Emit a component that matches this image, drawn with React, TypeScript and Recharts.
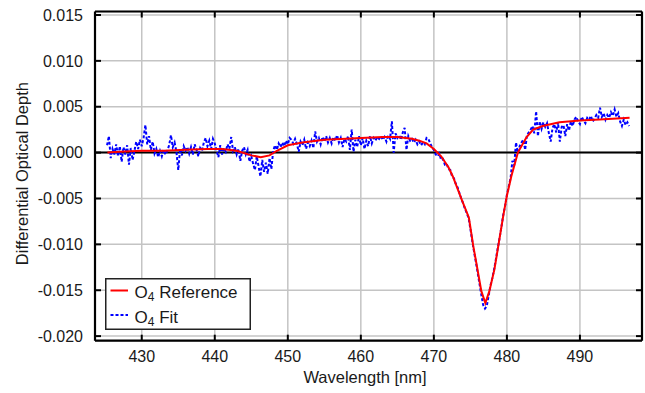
import { CartesianGrid, Legend, Line, LineChart, ReferenceLine, XAxis, YAxis } from 'recharts';

const FONT = '"Liberation Sans", Arial, Helvetica, sans-serif';
const TEXT = '#1a1a1a';

const wavelengthDomain = [423.6, 498.5];
const wavelengthTicks = [430, 440, 450, 460, 470, 480, 490];
const odDomain = [-0.0205, 0.01538];
const odTicks = [-0.02, -0.015, -0.01, -0.005, 0, 0.005, 0.01, 0.015];
const legendOrder = ['O4 Reference', 'O4 Fit'];

// [wavelength nm, differential optical depth]
const referenceCurve: [number, number][] = [
  [425.3, 0.0], [427, 0.0001], [430, 0.0002], [433, 0.0002], [436, 0.0003], [439, 0.0004],
  [441, 0.0004], [443, 0.0002], [445, -0.0003], [446.3, -0.0005], [447.5, -0.0003], [448.5, 0.0002],
  [450, 0.0008], [452, 0.0011], [455, 0.0014], [458, 0.0015], [460, 0.0016], [463, 0.0017],
  [465, 0.0017], [467, 0.0015], [468, 0.0013], [469, 0.001], [470, 0.0004], [471, -0.0004],
  [472, -0.0016], [472.6, -0.0026], [473.8, -0.0051], [474.8, -0.0071], [475.4, -0.0102],
  [475.9, -0.0124], [476.5, -0.0151], [477.05, -0.0164], [477.6, -0.0151], [478.3, -0.0127],
  [478.9, -0.0098], [479.5, -0.0069], [480.0, -0.0047], [480.6, -0.0026], [481.5, 0.0],
  [482.7, 0.0017], [483.6, 0.0025], [484.9, 0.0029], [487.2, 0.0033], [490, 0.0035],
  [492.7, 0.0036], [496.8, 0.0038],
];

const fitCurve: [number, number][] = [
  [425.25, 0.0008], [425.5, 0.0018], [425.75, -0.0006], [426.0, 0.0004], [426.25, -0.0002],
  [426.5, 0.0009], [426.75, -0.0004], [427.0, 0.0007], [427.25, -0.001], [427.5, 0.0006],
  [427.75, -0.0002], [428.0, 0.0008], [428.25, -0.0013], [428.5, 0.0005], [428.75, -0.0008],
  [429.0, 0.0002], [429.25, 0.0012], [429.5, 0.0004], [429.75, 0.0014], [430.0, 0.0007],
  [430.25, 0.0016], [430.5, 0.003], [430.75, 0.0009], [431.0, 0.0018], [431.25, 0.0003],
  [431.5, 0.0012], [431.75, -0.0001], [432.0, 0.0004], [432.25, -0.0005], [432.5, 0.0002],
  [432.75, -0.0004], [433.0, 0.0003], [433.25, -0.0002], [433.5, 0.0002], [433.75, 0.0008],
  [434.0, 0.0019], [434.25, 0.0006], [434.5, 0.0011], [434.75, 0.0001], [435.0, -0.0019],
  [435.25, 0.0004], [435.5, -0.0003], [435.75, 0.0007], [436.0, 0.0002], [436.25, 0.0006],
  [436.5, -0.0001], [436.75, 0.0006], [437.0, -0.0002], [437.25, 0.0009], [437.5, 0.0003],
  [437.75, -0.0004], [438.0, 0.0005], [438.25, 0.0002], [438.5, 0.0011], [438.75, 0.0016],
  [439.0, 0.0007], [439.25, 0.0013], [439.5, 0.0004], [439.75, 0.0015], [440.0, 0.001],
  [440.25, 0.0002], [440.5, -0.0005], [440.75, 0.0008], [441.0, -0.0002], [441.25, 0.0005],
  [441.5, 0.0001], [441.75, 0.0009], [442.0, 0.0004], [442.25, 0.0017], [442.5, 0.0002],
  [442.75, 0.0006], [443.0, -0.0002], [443.25, 0.0004], [443.5, -0.0009], [443.75, 0.0002],
  [444.0, 0.0006], [444.25, -0.0002], [444.5, 0.0003], [444.75, -0.001], [445.0, -0.0004],
  [445.25, -0.0012], [445.5, -0.0019], [445.75, -0.0004], [446.0, -0.0015], [446.25, -0.0026],
  [446.5, -0.0008], [446.75, -0.0021], [447.0, -0.0011], [447.25, -0.0023], [447.5, -0.0006],
  [447.75, -0.0018], [448.0, 0.0002], [448.25, 0.0008], [448.5, 0.0003], [448.75, 0.001],
  [449.0, 0.0006], [449.25, 0.0011], [449.5, 0.0007], [449.75, 0.0013], [450.0, 0.0009],
  [450.25, 0.0016], [450.5, 0.0014], [450.75, 0.001], [451.0, 0.0015], [451.25, 0.0009],
  [451.5, 0.0001], [451.75, 0.0012], [452.0, 0.0008], [452.25, 0.0014], [452.5, 0.0004],
  [452.75, 0.0011], [453.0, 0.0007], [453.25, 0.0013], [453.5, 0.0005], [453.75, 0.0023],
  [454.0, 0.0012], [454.25, 0.0016], [454.5, 0.0009], [454.75, 0.0017], [455.0, 0.0012],
  [455.25, 0.0018], [455.5, 0.0011], [455.75, 0.0016], [456.0, 0.001], [456.25, 0.0017],
  [456.5, 0.0013], [456.75, 0.0019], [457.0, 0.0011], [457.25, 0.0016], [457.5, 0.0006],
  [457.75, 0.0015], [458.0, 0.0012], [458.25, 0.0018], [458.5, 0.0003], [458.75, 0.0025],
  [459.0, 0.0001], [459.25, 0.0014], [459.5, 0.0006], [459.75, 0.0018], [460.0, 0.0008],
  [460.25, 0.0016], [460.5, 0.0004], [460.75, 0.0013], [461.0, 0.0007], [461.25, 0.0018],
  [461.5, 0.001], [461.75, 0.0016], [462.0, 0.0013], [462.25, 0.0017], [462.5, 0.0015],
  [462.75, 0.0018], [463.0, 0.0014], [463.25, 0.0017], [463.5, 0.0012], [463.75, 0.0019],
  [464.0, 0.0015], [464.25, 0.0034], [464.5, 0.0], [464.75, 0.0021], [465.0, 0.0016],
  [465.25, 0.0019], [465.5, 0.0014], [465.75, 0.0022], [466.0, 0.0027], [466.25, 0.0003],
  [466.5, 0.0018], [466.75, 0.0013], [467.0, 0.0015], [467.25, 0.0011], [467.5, 0.0014],
  [467.75, 0.0009], [468.0, 0.0012], [468.25, 0.0008], [468.5, 0.0011], [468.75, 0.0009],
  [469.0, 0.0016], [469.25, 0.0015], [469.5, 0.001], [469.75, 0.0006], [470.0, 0.0003],
  [470.25, -0.0002], [470.5, -0.0004], [470.75, -0.0001], [471.0, -0.0008], [471.25, -0.0007],
  [471.5, -0.0013], [471.75, -0.0012], [472.0, -0.0018], [472.25, -0.0019], [472.5, -0.0026],
  [472.75, -0.0028], [473.0, -0.0034], [473.25, -0.0038], [473.5, -0.0044], [473.75, -0.005],
  [474.0, -0.0055], [474.25, -0.0061], [474.5, -0.0066], [474.75, -0.0071], [475.0, -0.0083],
  [475.25, -0.0096], [475.5, -0.0108], [475.75, -0.0119], [476.0, -0.0131], [476.25, -0.0143],
  [476.5, -0.0155], [476.75, -0.0166], [477.0, -0.017], [477.25, -0.0167], [477.5, -0.0156],
  [477.75, -0.0145], [478.0, -0.0137], [478.25, -0.0127], [478.5, -0.0116], [478.75, -0.0104],
  [479.0, -0.0093], [479.25, -0.0081], [479.5, -0.0068], [479.75, -0.0058], [480.0, -0.0046],
  [480.25, -0.0037], [480.5, -0.0028], [480.75, -0.0009], [481.0, -0.0014], [481.25, 0.0011],
  [481.5, 0.0], [481.75, 0.0007], [482.0, 0.0011], [482.25, 0.0014], [482.5, 0.0003],
  [482.75, 0.0019], [483.0, 0.0022], [483.25, 0.0025], [483.5, 0.0029], [483.75, 0.0021],
  [484.0, 0.0045], [484.25, 0.0018], [484.5, 0.0034], [484.75, 0.0026], [485.0, 0.0033],
  [485.25, 0.0028], [485.5, 0.0032], [485.75, 0.0021], [486.0, 0.0012], [486.25, 0.0027],
  [486.5, 0.0031], [486.75, 0.0022], [487.0, 0.0033], [487.25, 0.0012], [487.5, 0.0028],
  [487.75, 0.003], [488.0, 0.0018], [488.25, 0.0031], [488.5, 0.0024], [488.75, 0.0034],
  [489.0, 0.0029], [489.25, 0.0036], [489.5, 0.0039], [489.75, 0.0034], [490.0, 0.0031],
  [490.25, 0.0039], [490.5, 0.0035], [490.75, 0.0032], [491.0, 0.0038], [491.25, 0.0036],
  [491.5, 0.004], [491.75, 0.0034], [492.0, 0.0037], [492.25, 0.0041], [492.5, 0.0038],
  [492.75, 0.0049], [493.0, 0.0039], [493.25, 0.0043], [493.5, 0.0036], [493.75, 0.0041],
  [494.0, 0.0038], [494.25, 0.0044], [494.5, 0.004], [494.75, 0.0047], [495.0, 0.0039],
  [495.25, 0.0043], [495.5, 0.0034], [495.75, 0.0029], [496.0, 0.0036], [496.25, 0.003],
  [496.5, 0.0033], [496.75, 0.0029],
];

const referenceData = referenceCurve.map(([wl, od]) => ({ wl, od }));
const fitData = fitCurve.map(([wl, od]) => ({ wl, od }));

const frameLine = { stroke: '#000', strokeWidth: 2.2 };

function BottomTick({ x, y, payload }: any) {
  return (
    <g>
      <line x1={x} y1={y} x2={x} y2={y - 6} stroke="#000" strokeWidth={2} />
      <text x={x} y={y + 21} textAnchor="middle" fontSize={16} fontFamily={FONT} fill={TEXT}>
        {payload.value}
      </text>
    </g>
  );
}

function TopTick({ x, y }: any) {
  return <line x1={x} y1={y} x2={x} y2={y + 6} stroke="#000" strokeWidth={2} />;
}

function LeftTick({ x, y, payload }: any) {
  return (
    <g>
      <line x1={x} y1={y} x2={x + 6} y2={y} stroke="#000" strokeWidth={2} />
      <text x={x - 12} y={y + 5.7} textAnchor="end" fontSize={16} fontFamily={FONT} fill={TEXT}>
        {Number(payload.value).toFixed(3)}
      </text>
    </g>
  );
}

function RightTick({ x, y }: any) {
  return <line x1={x} y1={y} x2={x - 6} y2={y} stroke="#000" strokeWidth={2} />;
}

function XTitle({ viewBox }: any) {
  return (
    <text
      x={viewBox.x + viewBox.width / 2 - 3.5}
      y={viewBox.y + 42}
      textAnchor="middle"
      fontSize={16.5}
      fontFamily={FONT}
      fill={TEXT}
    >
      Wavelength [nm]
    </text>
  );
}

function YTitle({ viewBox }: any) {
  const cx = viewBox.x + 28.5;
  const cy = viewBox.y + viewBox.height / 2 - 2.5;
  return (
    <text
      x={cx}
      y={cy}
      transform={`rotate(-90, ${cx}, ${cy})`}
      textAnchor="middle"
      fontSize={16.5}
      fontFamily={FONT}
      fill={TEXT}
    >
      Differential Optical Depth
    </text>
  );
}

function LegendBox({ payload }: any) {
  const items = legendOrder
    .map((name) => (payload || []).find((p: any) => p.value === name))
    .filter(Boolean);
  return (
    <svg width={146} height={52} style={{ display: 'block' }}>
      <rect x={0.75} y={0.75} width={144.5} height={50.5} fill="#fff" stroke="#222" strokeWidth={1.5} />
      {items.map((item: any, i: number) => {
        const cy = 12.5 + i * 24.5;
        return (
          <g key={item.value}>
            <line
              x1={5.5}
              x2={23}
              y1={cy}
              y2={cy}
              stroke={item.color}
              strokeWidth={2}
              strokeDasharray={item.payload?.strokeDasharray}
            />
            <text x={29.5} y={cy + 7.8} fontSize={17} fontFamily={FONT} fill={TEXT}>
              O
              <tspan fontSize={12} dy={3}>4</tspan>
              <tspan dy={-3}>{' ' + item.value.replace(/^O4 /, '')}</tspan>
            </text>
          </g>
        );
      })}
    </svg>
  );
}

export default function App() {
  return (
    <div style={{ position: 'absolute', left: 0, top: 0, width: 645, height: 393, background: '#fff' }}>
      <LineChart width={645} height={393} margin={{ top: 10.5, right: 2, bottom: 0, left: 0 }}>
        <CartesianGrid stroke="#c4c4c4" strokeWidth={1.5} />
        <XAxis
          type="number"
          dataKey="wl"
          domain={wavelengthDomain}
          ticks={wavelengthTicks}
          allowDataOverflow
          height={52.3}
          tickSize={0}
          tickMargin={0}
          tickLine={false}
          axisLine={frameLine}
          tick={<BottomTick />}
          label={XTitle}
        />
        <XAxis
          xAxisId="top"
          orientation="top"
          type="number"
          dataKey="wl"
          domain={wavelengthDomain}
          ticks={wavelengthTicks}
          allowDataOverflow
          height={1}
          tickSize={0}
          tickMargin={0}
          tickLine={false}
          axisLine={frameLine}
          tick={<TopTick />}
        />
        <YAxis
          type="number"
          domain={odDomain}
          ticks={odTicks}
          allowDataOverflow
          width={95}
          tickSize={0}
          tickMargin={0}
          tickLine={false}
          axisLine={frameLine}
          tick={<LeftTick />}
          label={YTitle}
        />
        <YAxis
          yAxisId="right"
          orientation="right"
          type="number"
          domain={odDomain}
          ticks={odTicks}
          allowDataOverflow
          width={1}
          tickSize={0}
          tickMargin={0}
          tickLine={false}
          axisLine={frameLine}
          tick={<RightTick />}
        />
        <ReferenceLine y={0} stroke="#000" strokeWidth={2} />
        <Legend
          layout="vertical"
          align="center"
          verticalAlign="middle"
          wrapperStyle={{ left: 105, top: 278, width: 146, height: 52 }}
          content={<LegendBox />}
        />
        <Line
          data={fitData}
          dataKey="od"
          name="O4 Fit"
          type="linear"
          stroke="#0000ff"
          strokeWidth={2}
          strokeDasharray="3 2"
          dot={false}
          activeDot={false}
          isAnimationActive={false}
        />
        {/* same domains as the bottom/left axes; bound to the mirrored axes so they get drawn */}
        <Line
          data={referenceData}
          xAxisId="top"
          yAxisId="right"
          dataKey="od"
          name="O4 Reference"
          type="linear"
          stroke="#ff0000"
          strokeWidth={2}
          dot={false}
          activeDot={false}
          isAnimationActive={false}
        />
      </LineChart>
    </div>
  );
}
